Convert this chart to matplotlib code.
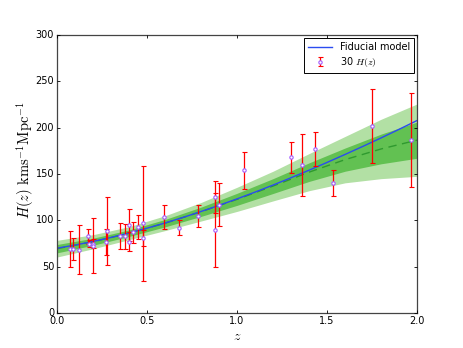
import matplotlib
matplotlib.use("Agg")
import matplotlib.pyplot as plt
import numpy as np

plt.style.use("classic")

# Observational H(z) data (30 points)
z_obs = [0.07, 0.09, 0.12, 0.17, 0.179, 0.199, 0.2, 0.27, 0.28, 0.352, 0.3802, 0.4,
         0.4004, 0.4247, 0.4497, 0.4783, 0.48, 0.593, 0.68, 0.781, 0.875, 0.88, 0.9,
         1.037, 1.3, 1.363, 1.43, 1.53, 1.75, 1.965]
H_obs = [69, 69, 68.6, 83, 75, 75, 72.9, 77, 88.8, 83, 83, 95, 77, 87.1, 92.8, 80.9,
         97, 104, 92, 105, 125, 90, 117, 154, 168, 160, 177, 140, 202, 186.5]
sig_obs = [19.6, 12, 26.2, 8, 4, 5, 29.6, 14, 36.6, 14, 13.5, 17, 10.2, 11.2, 12.9, 9,
           62, 13, 8, 12, 17, 40, 23, 20, 17, 33.6, 18, 14, 40, 50.4]

# Fiducial model curve
z_fid = [0.0, 0.1, 0.2, 0.3, 0.4, 0.5, 0.6, 0.7, 0.8, 0.9, 1.0, 1.1, 1.2, 1.3, 1.4,
         1.5, 1.6, 1.7, 1.8, 1.9, 2.0]
H_fid = [70.0, 73.4, 77.3, 81.6, 86.4, 91.6, 97.2, 103.2, 109.6, 116.2, 123.2, 130.5,
         138.1, 146.0, 154.1, 162.5, 171.1, 179.9, 188.9, 198.2, 207.7]

# Reconstruction mean and 1-sigma width
z_rec = [0.0, 0.2, 0.4, 0.6, 0.8, 1.0, 1.2, 1.4, 1.6, 1.8, 2.0]
H_rec = [69.5, 77.0, 86.2, 97.0, 109.3, 122.7, 137.0, 152.0, 165.5, 177.0, 186.5]
sig_rec = [4.5, 3.8, 3.5, 4.0, 5.0, 6.5, 8.0, 10.0, 12.5, 16.0, 19.5]

zr = np.array(z_rec)
Hr = np.array(H_rec)
sr = np.array(sig_rec)

fig = plt.figure(figsize=(4.63, 3.48), dpi=100)
fig.patch.set_facecolor("white")
ax = fig.add_axes([0.123, 0.1, 0.778, 0.8])

ax.fill_between(zr, Hr - 2 * sr, Hr + 2 * sr, color="#b2e0a4", lw=0)
ax.fill_between(zr, Hr - sr, Hr + sr, color="#62c152", lw=0)
ax.plot(zr, Hr, ls="--", color="#2f9a2f", lw=1.0, dashes=(6, 4))
ax.plot(z_fid, H_fid, color="#2a4cf0", lw=1.0, label="Fiducial model")
ax.errorbar(z_obs, H_obs, yerr=sig_obs, fmt="o", color="red", ecolor="red",
            elinewidth=0.9, capsize=1.8, capthick=0.9, ms=2.4, mfc="white",
            mec="#a35cff", mew=0.8, label=r"30 $H(z)$")

ax.set_xlim(0, 2.0)
ax.set_ylim(0, 300)
ax.set_xticks([0.0, 0.5, 1.0, 1.5, 2.0])
ax.set_yticks([0, 50, 100, 150, 200, 250, 300])
ax.tick_params(labelsize=7, length=2.5, width=0.6, pad=2)
for s in ax.spines.values():
    s.set_linewidth(0.9)
    s.set_color("#444444")

ax.set_xlabel(r"$z$", fontsize=10, labelpad=2)
ax.set_ylabel(r"$H(z)\ {\rm kms^{-1}Mpc^{-1}}$", fontsize=10.5)
ax.yaxis.set_label_coords(-0.055, 0.55)

leg = ax.legend(loc="upper right", fontsize=7, numpoints=1, borderaxespad=0.35,
                handlelength=2.5, borderpad=0.4, labelspacing=0.3)
leg.get_frame().set_linewidth(0.7)

fig.savefig("out.png", dpi=100)
